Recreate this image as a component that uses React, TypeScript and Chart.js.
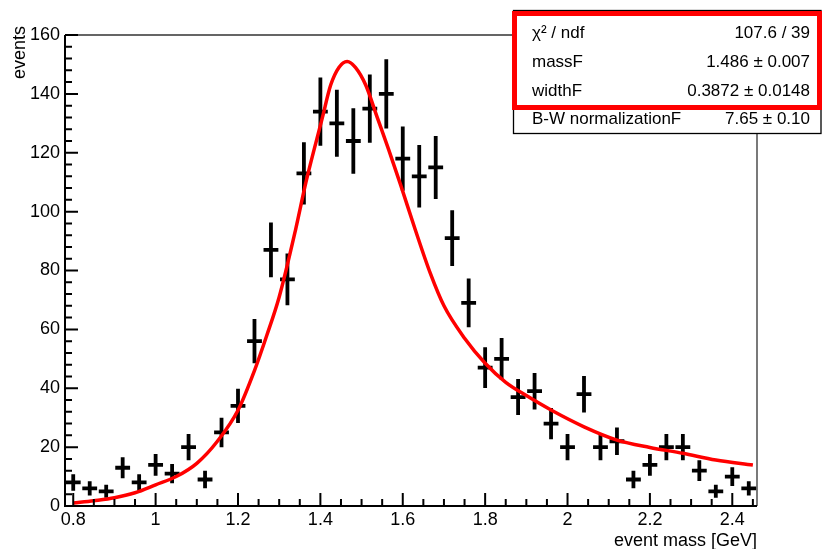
import React, { useEffect, useRef } from 'react';
import { Chart, registerables } from 'chart.js';

Chart.register(...registerables);

// ---- data ----
const binCenters = [
  0.80, 0.84, 0.88, 0.92, 0.96, 1.00, 1.04, 1.08, 1.12, 1.16, 1.20, 1.24, 1.28, 1.32,
  1.36, 1.40, 1.44, 1.48, 1.52, 1.56, 1.60, 1.64, 1.68, 1.72, 1.76, 1.80, 1.84, 1.88,
  1.92, 1.96, 2.00, 2.04, 2.08, 2.12, 2.16, 2.20, 2.24, 2.28, 2.32, 2.36, 2.40, 2.44,
];
const binCounts = [
  8, 6, 5, 13, 8, 14, 11, 20, 9, 25, 34, 56, 87, 77,
  113, 134, 130, 124, 135, 140, 118, 112, 115, 91, 69, 47, 50, 37,
  39, 28, 20, 38, 20, 22, 9, 14, 20, 20, 12, 5, 10, 6,
];
const binErrors = [
  2.8, 2.4, 2.2, 3.6, 2.8, 3.7, 3.3, 4.5, 3.0, 5.0, 5.8, 7.5, 9.3, 8.8,
  10.6, 11.6, 11.4, 11.1, 11.6, 11.8, 10.9, 10.6, 10.7, 9.5, 8.3, 6.9, 7.1, 6.1,
  6.2, 5.3, 4.5, 6.2, 4.5, 4.7, 3.0, 3.7, 4.5, 4.5, 3.5, 2.2, 3.2, 2.4,
];
const binHalfWidth = 0.018;

const fitX = [
  0.80, 0.85, 0.90, 0.95, 1.00, 1.05, 1.10, 1.15, 1.20, 1.24, 1.27, 1.30, 1.34, 1.365,
  1.405, 1.425, 1.445, 1.465, 1.485, 1.51, 1.538, 1.566, 1.595, 1.63, 1.667, 1.70,
  1.75, 1.80, 1.85, 1.90, 1.96, 2.04, 2.12, 2.20, 2.28, 2.36, 2.45,
];
const fitY = [
  1.0, 1.8, 2.8, 4.5, 7.2, 10.0, 14.5, 22.0, 32.5, 46, 58, 71, 94, 110,
  132, 143, 149, 151, 149, 143, 132, 121, 109, 94, 79, 68,
  57, 48.5, 42, 37.5, 32.6, 26.9, 22.4, 19.9, 17.9, 15.6, 13.9,
];

const xMin = 0.78;
const xMax = 2.46;
const yMin = 0;
const yMax = 160;
const xTickValues = [0.8, 1.0, 1.2, 1.4, 1.6, 1.8, 2.0, 2.2, 2.4];
const yTickStep = 20;

const xTitle = 'event mass [GeV]';
const yTitle = 'events';
const statsLabels = ['χ² / ndf', 'massF', 'widthF', 'B-W normalizationF'];
const statsValues = ['107.6 / 39', '1.486 ± 0.007', '0.3872 ± 0.0148', '7.65 ± 0.10'];

const FONT = '"Liberation Sans", Arial, Helvetica, sans-serif';

const rootPlugin = {
  id: 'rootStyle',
  afterDatasetsDraw(chart: any) {
    const { ctx, chartArea: a, scales } = chart;
    const xs = scales.x;
    const ys = scales.y;
    ctx.save();
    // top and right frame
    ctx.strokeStyle = '#333';
    ctx.lineWidth = 1.3;
    ctx.beginPath();
    ctx.moveTo(a.left, a.top);
    ctx.lineTo(a.right, a.top);
    ctx.lineTo(a.right, a.bottom);
    ctx.stroke();

    // left and bottom axes
    ctx.strokeStyle = '#000';
    ctx.lineWidth = 2;
    ctx.beginPath();
    ctx.moveTo(a.left, a.top);
    ctx.lineTo(a.left, a.bottom);
    ctx.lineTo(a.right, a.bottom);
    ctx.stroke();

    // y ticks: major every 20, minor every 4
    ctx.beginPath();
    for (let k = 0; k <= 40; k++) {
      const v = k * 4;
      const y = ys.getPixelForValue(v);
      const len = k % 5 === 0 ? 13 : 7;
      ctx.moveTo(a.left, y);
      ctx.lineTo(a.left + len, y);
    }
    // x ticks: major every 0.2, minor every 0.05
    for (let k = 16; k <= 49; k++) {
      const v = k * 0.05;
      if (v < xMin - 1e-9 || v > xMax + 1e-9) continue;
      const x = xs.getPixelForValue(v);
      const len = k % 4 === 0 ? 13 : 7;
      ctx.moveTo(x, a.bottom);
      ctx.lineTo(x, a.bottom - len);
    }
    ctx.stroke();

    // axis titles
    ctx.fillStyle = '#000';
    ctx.font = `18px ${FONT}`;
    ctx.textAlign = 'right';
    ctx.textBaseline = 'alphabetic';
    ctx.fillText(xTitle, a.right, 546);
    ctx.save();
    ctx.translate(25, 26);
    ctx.rotate(-Math.PI / 2);
    ctx.textAlign = 'right';
    ctx.fillText(yTitle, 0, 0);
    ctx.restore();
    ctx.restore();
  },
  afterDraw(chart: any) {
    const { ctx } = chart;
    ctx.save();
    // stats box
    ctx.fillStyle = '#fff';
    ctx.fillRect(513, 10, 309, 124);
    ctx.strokeStyle = '#000';
    ctx.lineWidth = 1.3;
    ctx.strokeRect(513.5, 10.5, 307.5, 123);
    ctx.strokeStyle = '#ff0000';
    ctx.lineWidth = 5;
    ctx.strokeRect(514.5, 13.5, 305, 94);

    ctx.fillStyle = '#000';
    ctx.font = `17px ${FONT}`;
    ctx.textBaseline = 'alphabetic';
    const baselines = [38, 67, 95.5, 124];
    statsLabels.forEach((lab, i) => {
      ctx.textAlign = 'left';
      ctx.fillText(lab, 532, baselines[i]);
      ctx.textAlign = 'right';
      ctx.fillText(statsValues[i], 810, baselines[i]);
    });
    ctx.restore();
  },
};

export default function App() {
  const canvasRef = useRef<HTMLCanvasElement | null>(null);

  useEffect(() => {
    document.body.style.margin = '0';
    const canvas = canvasRef.current;
    if (!canvas) return;

    const fitData = fitX.map((x, i) => ({ x, y: fitY[i] }));
    const errData: { x: number; y: number | null }[] = [];
    binCenters.forEach((x, i) => {
      const v = binCounts[i];
      const e = binErrors[i];
      errData.push({ x: x - binHalfWidth, y: v });
      errData.push({ x: x + binHalfWidth, y: v });
      errData.push({ x, y: null });
      errData.push({ x, y: v - e });
      errData.push({ x, y: v + e });
      errData.push({ x, y: null });
    });

    const chart = new Chart(canvas, {
      type: 'line',
      data: {
        datasets: [
          {
            label: 'fit',
            data: fitData,
            borderColor: '#ff0000',
            borderWidth: 3.5,
            pointRadius: 0,
            fill: false,
            cubicInterpolationMode: 'monotone',
            order: 0,
          },
          {
            label: 'data',
            data: errData,
            borderColor: '#000',
            borderWidth: 3.8,
            borderCapStyle: 'butt',
            pointRadius: 0,
            fill: false,
            spanGaps: false,
            tension: 0,
            order: 1,
          },
        ],
      },
      options: {
        responsive: false,
        animation: false,
        parsing: true,
        layout: { padding: { left: 0, top: 35, right: 65, bottom: 0 } },
        plugins: {
          legend: { display: false },
          tooltip: { enabled: false },
        },
        scales: {
          x: {
            type: 'linear',
            min: xMin,
            max: xMax,
            grid: { display: false, drawTicks: false },
            border: { display: false },
            afterBuildTicks: (scale: any) => {
              scale.ticks = xTickValues.map((v) => ({ value: v }));
            },
            afterFit: (scale: any) => {
              scale.height = 43;
            },
            ticks: {
              autoSkip: false,
              maxRotation: 0,
              padding: 3,
              color: '#000',
              font: { family: FONT, size: 18 },
              callback: (value: any) => String(Number(Number(value).toFixed(2))),
            },
          },
          y: {
            type: 'linear',
            min: yMin,
            max: yMax,
            grid: { display: false, drawTicks: false },
            border: { display: false },
            afterFit: (scale: any) => {
              scale.width = 65;
            },
            ticks: {
              stepSize: yTickStep,
              padding: 5,
              color: '#000',
              font: { family: FONT, size: 18 },
            },
          },
        },
      },
      plugins: [rootPlugin],
    } as any);

    return () => chart.destroy();
  }, []);

  return (
    <div style={{ width: 822, height: 549, background: '#fff' }}>
      <canvas ref={canvasRef} width={822} height={549} style={{ display: 'block', width: 822, height: 549 }} />
    </div>
  );
}
